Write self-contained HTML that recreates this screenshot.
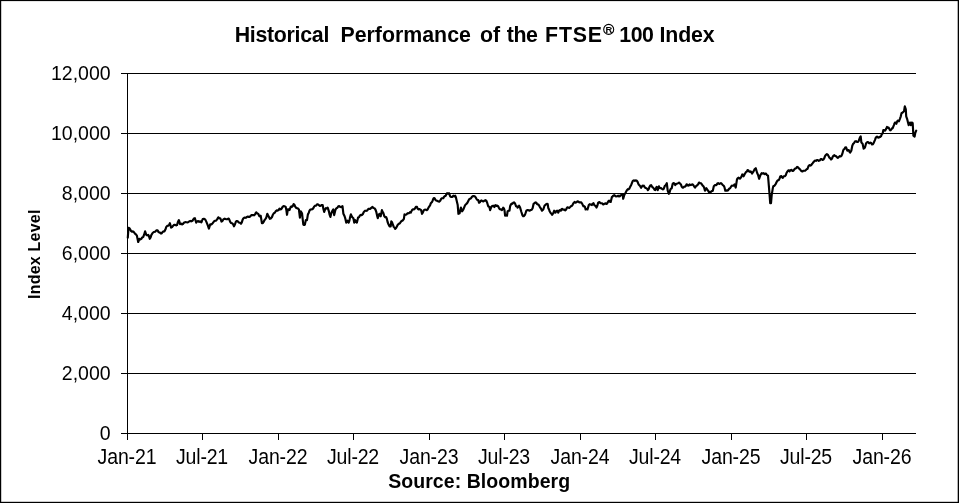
<!DOCTYPE html>
<html><head><meta charset="utf-8"><title>Historical Performance of the FTSE 100 Index</title>
<style>html,body{margin:0;padding:0;background:#fff;}body{width:959px;height:503px;overflow:hidden;}svg{display:block;}text{font-family:"Liberation Sans",sans-serif;fill:#000;}g.t{opacity:0.999;}</style></head><body>
<svg width="959" height="503" viewBox="0 0 959 503">
<rect x="0" y="0" width="959" height="503" fill="#fff"/>
<rect x="0" y="0" width="959" height="1.1" fill="#000"/>
<rect x="0" y="0" width="1.2" height="503" fill="#000"/>
<rect x="957.7" y="0" width="1.3" height="503" fill="#000"/>
<rect x="0" y="501.8" width="959" height="1.2" fill="#000"/>
<g stroke="#000" stroke-width="1" shape-rendering="crispEdges">
<line x1="121" y1="73.5" x2="916" y2="73.5"/>
<line x1="121" y1="133.5" x2="916" y2="133.5"/>
<line x1="121" y1="193.5" x2="916" y2="193.5"/>
<line x1="121" y1="253.5" x2="916" y2="253.5"/>
<line x1="121" y1="313.5" x2="916" y2="313.5"/>
<line x1="121" y1="373.5" x2="916" y2="373.5"/>
<line x1="121" y1="433.5" x2="916" y2="433.5"/>
<line x1="127.5" y1="73" x2="127.5" y2="440"/>
<line x1="202.5" y1="433" x2="202.5" y2="440"/>
<line x1="278.5" y1="433" x2="278.5" y2="440"/>
<line x1="353.5" y1="433" x2="353.5" y2="440"/>
<line x1="429.5" y1="433" x2="429.5" y2="440"/>
<line x1="504.5" y1="433" x2="504.5" y2="440"/>
<line x1="580.5" y1="433" x2="580.5" y2="440"/>
<line x1="655.5" y1="433" x2="655.5" y2="440"/>
<line x1="731.5" y1="433" x2="731.5" y2="440"/>
<line x1="806.5" y1="433" x2="806.5" y2="440"/>
<line x1="882.5" y1="433" x2="882.5" y2="440"/>
</g>
<polyline fill="none" stroke="#000" stroke-width="2.15" stroke-linejoin="round" stroke-linecap="round" points="127.8,237.6 128.5,227.8 129.2,228.0 130.0,229.1 130.9,230.8 131.9,231.6 132.9,231.4 133.8,232.0 134.8,233.5 135.7,234.1 136.9,235.7 138.2,242.0 139.4,238.8 140.4,239.4 141.3,238.8 142.2,237.4 143.2,237.0 144.1,234.7 145.1,231.3 146.3,234.8 147.2,235.4 148.2,234.8 149.0,236.3 149.8,238.8 150.6,237.4 151.3,235.1 152.6,233.0 153.8,232.0 155.1,231.7 156.3,230.4 157.6,230.4 158.6,232.1 159.5,232.6 160.2,232.6 161.0,233.6 161.8,233.2 162.6,232.0 163.6,231.3 164.5,231.3 165.4,229.6 166.3,226.9 167.2,225.9 168.2,225.7 169.1,225.0 169.9,223.2 171.1,227.6 172.1,227.1 173.2,225.7 174.1,224.8 175.1,224.8 176.1,225.4 177.0,225.1 177.9,222.1 178.9,220.1 180.1,224.1 181.1,223.7 182.0,224.4 182.9,224.0 183.9,222.8 185.2,222.1 186.4,222.3 187.7,222.5 188.9,221.6 190.2,220.9 191.4,221.3 192.4,220.8 193.3,219.4 194.1,218.3 194.9,218.2 196.2,222.6 197.2,221.3 198.3,221.1 199.2,221.8 200.2,221.3 201.4,222.3 202.7,219.1 203.9,218.8 205.2,219.4 206.4,221.9 207.7,225.1 208.9,228.6 210.2,224.4 211.4,224.4 212.7,223.2 213.9,221.5 215.2,220.7 216.1,220.6 217.1,219.4 218.3,217.3 219.2,218.1 220.2,218.2 220.8,219.5 221.5,221.6 222.4,221.1 223.3,219.4 224.6,218.7 225.8,219.1 227.2,219.2 228.7,218.5 229.4,219.8 230.2,221.9 231.1,223.0 232.1,223.2 233.1,224.3 234.0,226.3 234.9,224.5 235.9,221.6 236.8,221.0 237.7,221.3 238.8,222.5 240.0,222.8 241.0,223.8 241.8,222.4 242.5,220.1 243.4,218.3 244.4,217.6 245.7,217.8 246.9,217.0 247.9,216.6 248.8,217.0 249.8,216.9 250.7,215.7 251.9,215.0 253.2,215.1 254.1,215.3 255.0,214.4 255.7,212.9 256.3,212.3 257.2,213.5 258.2,213.8 259.4,216.3 260.0,216.5 260.7,215.7 261.9,223.2 262.8,223.2 263.6,222.0 264.4,220.2 265.1,219.5 266.3,217.6 267.3,213.8 268.0,215.4 268.6,216.3 269.8,218.8 270.9,218.4 272.0,217.0 272.9,214.7 273.8,213.2 274.8,212.8 275.7,211.3 276.6,210.4 277.6,210.7 278.6,210.1 279.5,208.6 280.7,209.4 281.6,208.6 282.6,206.9 283.6,206.1 284.5,206.3 285.7,206.9 286.4,210.4 287.0,214.8 287.9,209.4 288.7,209.3 289.5,210.1 290.7,206.9 291.4,206.4 292.0,206.9 292.8,206.0 293.6,204.1 294.4,204.8 295.1,206.3 296.1,207.8 297.0,208.2 297.9,208.4 298.9,209.4 299.9,217.6 300.8,211.3 302.0,213.2 302.6,218.4 303.3,224.5 304.1,225.0 304.9,224.5 305.8,220.1 307.0,220.1 307.9,214.4 308.7,213.0 309.5,210.7 310.4,209.5 311.4,209.4 312.4,209.3 313.3,208.2 314.2,206.5 315.2,205.7 316.1,205.6 317.0,204.4 317.9,204.4 318.9,205.1 319.9,206.0 320.8,205.7 321.8,205.0 322.7,205.1 323.4,209.0 324.2,211.9 325.0,209.7 325.8,208.2 326.8,208.4 327.7,207.6 328.9,211.3 329.6,214.7 330.4,217.0 331.2,213.7 332.1,211.3 333.3,209.4 334.2,215.1 335.2,210.7 335.9,208.9 336.5,208.2 337.4,207.8 338.3,206.3 339.2,206.1 340.2,206.9 341.4,207.1 342.5,206.1 343.4,213.8 344.6,216.3 345.4,218.9 346.2,222.6 346.9,222.1 347.5,220.7 348.7,222.6 349.4,220.6 350.0,217.6 350.9,214.4 352.1,217.0 353.4,218.2 354.2,222.6 355.0,220.1 355.9,221.8 356.9,222.6 358.1,217.6 359.0,217.2 359.8,215.7 360.9,214.9 361.9,215.1 362.9,214.0 363.8,211.9 364.8,210.9 365.7,210.7 366.6,210.8 367.5,210.1 368.4,208.9 369.4,208.8 370.4,208.8 371.3,207.8 372.5,206.9 373.4,208.0 374.4,208.2 375.4,209.5 376.3,211.9 377.1,215.6 377.8,218.2 378.6,215.4 379.4,213.8 380.0,215.6 380.7,216.3 381.9,210.1 382.5,211.7 383.2,212.6 384.4,216.3 385.2,217.2 386.1,217.0 386.9,219.0 387.6,222.0 388.6,224.6 389.5,226.3 390.7,226.3 391.3,221.3 392.0,222.2 392.6,223.8 393.8,227.0 394.5,227.5 395.1,228.9 396.1,228.0 397.0,226.3 397.9,224.6 398.9,223.8 399.8,223.3 400.7,222.0 401.6,220.9 402.6,220.7 403.9,218.8 404.5,214.4 405.4,214.8 406.4,214.4 407.6,213.2 408.6,213.3 409.5,212.6 410.1,212.1 410.8,212.6 412.0,210.1 412.9,209.3 413.9,209.4 414.9,208.6 415.8,206.9 417.0,206.9 417.6,208.6 418.3,209.4 419.2,209.0 420.1,209.4 421.1,210.1 422.0,213.8 422.9,212.4 423.9,210.1 424.9,209.6 425.8,209.8 426.8,210.1 427.7,209.4 428.6,207.4 429.5,206.3 430.1,205.3 430.8,203.2 432.0,201.9 432.6,200.7 433.3,198.8 434.0,198.0 434.6,198.2 435.5,200.0 436.4,200.7 437.4,200.7 438.3,201.5 439.2,201.6 440.2,200.7 441.1,198.9 442.1,198.2 443.3,198.2 444.0,196.8 444.6,196.3 445.8,195.7 446.5,193.9 447.1,193.2 448.1,193.7 449.0,193.2 450.2,196.3 451.1,197.0 452.1,196.9 453.3,195.7 454.2,196.3 455.2,195.7 455.9,197.3 456.5,200.0 457.7,205.1 458.4,213.8 459.6,213.2 460.9,207.6 462.1,211.3 463.4,209.4 464.6,206.3 465.6,204.5 466.5,203.8 467.4,202.7 468.4,200.7 469.2,199.2 470.0,198.8 470.9,198.3 471.9,196.9 472.9,196.1 473.8,196.1 475.0,196.6 475.6,197.2 476.3,198.6 477.2,199.8 478.2,200.1 479.0,202.8 479.9,202.1 480.7,200.7 481.6,200.4 482.5,201.3 483.4,201.4 484.4,200.7 485.4,200.2 486.3,200.7 487.3,203.2 488.2,206.3 489.4,207.0 490.1,210.1 491.3,207.0 492.2,206.0 493.2,205.7 494.4,207.0 495.0,205.5 495.7,205.1 496.5,206.0 497.3,205.7 498.1,206.2 498.8,207.6 499.6,209.0 500.3,209.5 501.1,209.3 502.0,210.1 503.2,207.6 503.9,208.5 504.5,210.1 505.1,215.7 506.1,215.3 507.0,215.7 507.6,211.3 508.6,210.6 509.5,210.7 510.1,206.3 510.9,204.5 511.6,203.6 512.4,203.8 513.2,202.8 514.0,202.4 514.9,203.2 516.1,206.3 516.9,206.4 517.6,207.6 518.4,207.0 519.1,205.7 520.1,207.6 521.4,212.0 522.4,215.1 523.1,216.2 523.9,216.1 525.1,214.5 526.4,210.7 527.3,210.0 528.3,210.1 529.5,210.7 530.8,210.1 531.7,209.7 532.6,208.2 533.6,203.8 534.9,202.8 535.6,202.4 536.4,202.8 537.0,204.1 537.7,204.4 538.5,204.5 539.2,205.7 540.0,207.4 540.8,208.2 542.0,210.7 543.3,209.5 544.5,205.7 545.8,204.4 546.8,203.8 547.7,204.1 548.3,208.2 549.0,209.3 549.6,211.3 550.8,213.2 551.5,213.6 552.1,214.8 553.3,213.2 554.2,210.7 555.4,212.6 556.2,211.2 557.1,210.7 558.3,212.6 559.0,210.8 559.6,210.1 560.8,210.7 561.5,209.2 562.1,208.8 563.0,209.6 564.0,209.5 565.2,210.3 566.0,209.7 566.7,208.2 567.5,207.3 568.3,207.6 569.2,207.9 570.2,207.0 571.2,206.0 572.1,205.7 573.4,203.2 574.6,201.9 575.5,202.6 576.5,202.3 577.5,201.4 578.4,201.6 579.3,202.3 580.2,202.3 581.2,202.4 582.1,203.6 583.4,206.3 584.2,206.1 585.0,207.0 585.6,209.5 586.5,209.1 587.5,209.5 588.8,205.1 589.7,204.2 590.6,204.5 591.9,205.1 592.7,203.6 593.5,203.2 594.2,204.9 595.0,205.7 595.8,206.2 596.5,207.6 597.4,205.5 598.2,202.6 599.4,202.0 600.3,203.1 601.3,203.2 602.2,203.4 603.2,204.5 604.4,203.8 605.2,203.3 606.1,203.8 606.9,203.8 607.6,202.6 608.4,201.2 609.1,200.7 609.9,201.8 610.7,202.0 611.9,197.0 612.5,196.7 613.2,195.7 614.2,195.2 615.1,195.7 616.0,196.5 617.0,196.3 618.2,195.7 619.0,196.5 619.8,196.3 620.5,195.2 621.3,195.1 622.0,195.3 622.6,194.4 623.2,198.8 624.5,194.4 625.7,192.6 627.0,190.1 627.8,189.2 628.6,189.4 629.4,188.5 630.1,186.9 631.4,184.4 632.6,181.3 633.4,180.5 634.1,180.4 634.9,180.9 635.7,180.4 636.5,180.5 637.4,181.5 638.6,184.4 639.9,185.7 641.1,187.8 642.4,185.7 643.1,186.2 643.9,185.7 645.1,187.8 646.4,188.2 647.1,188.8 647.9,190.1 648.7,189.0 649.5,186.9 650.3,185.5 651.1,185.1 652.4,187.3 653.1,187.6 653.9,188.6 654.5,189.8 655.2,190.1 656.0,188.1 656.7,186.9 657.7,190.1 658.9,186.3 659.5,187.6 660.2,188.2 661.1,188.1 662.0,188.8 662.9,189.4 663.7,188.8 664.9,185.7 665.5,185.5 666.2,184.4 666.8,183.2 667.7,190.7 668.9,193.8 669.5,192.5 670.2,190.1 671.0,188.6 671.7,188.2 672.7,183.8 673.5,183.1 674.2,183.2 675.2,185.1 676.5,183.8 677.7,183.5 679.0,182.5 680.2,183.8 681.0,184.6 681.7,186.6 682.5,187.6 683.3,187.6 684.1,186.6 685.0,186.6 685.8,186.0 686.5,184.4 687.2,184.6 688.0,185.7 688.8,185.5 689.6,184.4 690.9,185.1 692.1,184.4 692.9,184.6 693.7,185.7 694.5,187.0 695.2,187.6 696.0,186.1 696.7,185.7 698.0,184.4 699.0,182.5 700.0,183.2 701.0,183.3 701.9,184.4 702.7,185.7 703.5,186.3 704.2,187.9 705.0,190.7 706.3,188.2 707.5,189.8 708.8,192.0 709.5,191.9 710.3,192.6 711.5,191.3 712.8,190.7 713.8,186.3 715.0,185.1 716.0,185.2 716.9,184.4 717.5,183.3 718.2,183.2 719.2,184.0 720.1,183.6 720.9,183.1 721.6,183.6 722.8,185.1 723.6,185.6 724.4,187.0 725.3,190.7 726.1,190.3 726.9,190.7 727.8,190.5 728.6,189.5 729.4,188.5 730.1,188.2 731.3,186.3 732.0,185.6 732.8,185.7 733.6,185.6 734.5,184.4 735.7,187.6 737.0,179.4 737.8,178.1 738.6,177.6 739.4,178.5 740.1,178.6 741.3,176.9 742.3,174.4 743.0,174.8 743.6,176.3 744.9,173.8 746.1,171.9 746.9,171.5 747.6,170.0 748.4,170.4 749.1,171.5 749.9,171.9 750.7,171.3 752.0,173.5 753.2,171.9 754.5,169.4 755.8,168.2 757.0,172.5 758.3,175.7 759.1,178.8 760.4,175.1 761.6,173.2 762.5,173.6 763.3,173.2 764.5,174.1 765.8,173.5 767.0,175.1 768.0,175.7 768.9,186.3 769.8,197.6 770.2,203.2 771.0,203.2 771.7,195.1 772.7,188.8 773.3,186.3 774.5,185.7 775.8,183.8 777.0,181.3 777.9,180.3 778.7,180.1 779.5,178.8 780.2,176.6 781.4,176.1 782.0,177.4 782.7,177.8 783.5,176.6 784.2,176.3 785.0,176.2 785.8,175.1 786.5,173.0 787.1,171.9 788.3,170.3 789.0,170.4 789.6,171.3 790.8,170.0 791.6,169.9 792.5,171.0 793.2,171.0 794.0,169.8 795.2,168.5 796.2,168.2 797.1,166.9 798.3,167.5 799.0,168.6 799.6,168.8 800.8,170.3 801.6,171.3 802.5,171.5 803.2,170.7 804.0,170.7 805.0,170.8 805.9,170.0 806.7,169.1 807.5,169.0 808.4,166.3 809.6,165.0 810.4,165.6 811.2,165.3 812.0,163.9 812.7,163.2 814.0,161.5 815.0,160.6 816.0,160.8 816.9,160.1 817.8,160.0 818.8,160.8 819.8,160.5 820.7,159.1 821.6,159.0 822.5,159.9 823.5,159.5 824.4,157.9 825.0,156.1 825.7,155.1 826.9,154.1 827.7,154.6 828.5,156.1 829.3,157.6 830.1,158.2 831.1,159.5 831.9,158.8 832.6,157.0 833.5,155.6 834.4,155.1 835.2,156.1 836.1,156.1 837.3,157.6 838.0,157.9 838.8,157.0 839.8,156.2 840.7,156.4 841.5,155.7 842.3,153.9 843.0,151.2 843.6,149.5 844.4,149.1 845.1,147.6 846.1,147.3 847.3,150.7 848.0,150.0 848.8,150.1 849.5,151.8 850.1,152.6 851.3,150.7 852.3,145.7 853.1,143.9 853.9,143.2 855.1,141.3 856.0,141.2 857.0,142.0 857.8,142.0 858.6,141.1 859.9,137.6 860.7,136.3 861.4,142.6 862.6,143.8 863.6,148.6 864.4,148.3 865.1,147.0 866.1,143.2 867.4,142.0 868.1,142.1 868.9,143.2 869.6,143.3 870.4,142.6 871.2,143.0 872.0,144.5 872.8,144.3 873.6,143.2 874.9,140.1 875.8,137.6 877.0,136.6 877.9,137.5 878.7,137.6 879.5,136.9 880.2,137.0 881.0,136.3 881.7,134.4 882.7,133.2 883.3,130.1 884.1,130.0 884.9,130.7 885.5,130.1 886.2,128.8 887.0,126.9 887.9,127.8 888.7,127.6 889.9,130.1 890.6,130.3 891.4,129.4 892.0,128.4 892.7,128.2 893.9,125.1 894.5,123.4 895.2,122.5 896.4,123.8 897.0,121.8 897.7,120.7 898.9,121.3 899.9,118.8 900.8,116.3 901.5,113.2 902.7,112.5 904.0,111.3 904.8,106.3 905.8,109.4 906.2,116.3 907.1,118.8 908.0,122.5 908.7,125.1 910.0,122.5 910.8,125.1 911.7,122.5 912.7,123.2 913.4,135.7 914.6,136.6 915.2,133.2 916.2,130.7"/>
<g class="t">
<text transform="translate(234.7 42.1) scale(1 1.07)" font-size="21.33" font-weight="bold" letter-spacing="-0.28">Historical</text>
<text transform="translate(340.5 42.1) scale(1 1.07)" font-size="21.33" font-weight="bold" letter-spacing="0">Performance</text>
<text transform="translate(480.0 42.1) scale(1 1.07)" font-size="21.33" font-weight="bold" letter-spacing="0">of</text>
<text transform="translate(506.8 42.1) scale(1 1.07)" font-size="21.33" font-weight="bold" letter-spacing="-0.4">the</text>
<text transform="translate(545.1 42.1) scale(1 1.07)" font-size="21.33" font-weight="bold" letter-spacing="0.8">FTSE</text>
<text transform="translate(619.2 42.1) scale(1 1.07)" font-size="21.33" font-weight="bold" letter-spacing="-0.4">100</text>
<text transform="translate(659.5 42.1) scale(1 1.07)" font-size="21.33" font-weight="bold" letter-spacing="-0.15">Index</text>
<circle cx="608.7" cy="29.4" r="5.0" fill="none" stroke="#000" stroke-width="1.1"/>
<text x="608.9" y="32.8" font-size="9.4" text-anchor="middle" font-weight="bold">R</text>
<text transform="translate(110.6 80) scale(1 1.06)" font-size="19.5" text-anchor="end">12,000</text>
<text transform="translate(110.6 140) scale(1 1.06)" font-size="19.5" text-anchor="end">10,000</text>
<text transform="translate(110.6 200) scale(1 1.06)" font-size="19.5" text-anchor="end">8,000</text>
<text transform="translate(110.6 260) scale(1 1.06)" font-size="19.5" text-anchor="end">6,000</text>
<text transform="translate(110.6 320) scale(1 1.06)" font-size="19.5" text-anchor="end">4,000</text>
<text transform="translate(110.6 380) scale(1 1.06)" font-size="19.5" text-anchor="end">2,000</text>
<text transform="translate(110.6 440) scale(1 1.06)" font-size="19.5" text-anchor="end">0</text>
<text transform="translate(127.0 463.8) scale(1 1.12)" font-size="19.5" letter-spacing="-0.12" text-anchor="middle">Jan-21</text>
<text transform="translate(202.0 463.8) scale(1 1.12)" font-size="19.5" letter-spacing="-0.2" text-anchor="middle">Jul-21</text>
<text transform="translate(278.0 463.8) scale(1 1.12)" font-size="19.5" letter-spacing="-0.12" text-anchor="middle">Jan-22</text>
<text transform="translate(353.0 463.8) scale(1 1.12)" font-size="19.5" letter-spacing="-0.2" text-anchor="middle">Jul-22</text>
<text transform="translate(429.0 463.8) scale(1 1.12)" font-size="19.5" letter-spacing="-0.12" text-anchor="middle">Jan-23</text>
<text transform="translate(504.0 463.8) scale(1 1.12)" font-size="19.5" letter-spacing="-0.2" text-anchor="middle">Jul-23</text>
<text transform="translate(580.0 463.8) scale(1 1.12)" font-size="19.5" letter-spacing="-0.12" text-anchor="middle">Jan-24</text>
<text transform="translate(655.0 463.8) scale(1 1.12)" font-size="19.5" letter-spacing="-0.2" text-anchor="middle">Jul-24</text>
<text transform="translate(731.0 463.8) scale(1 1.12)" font-size="19.5" letter-spacing="-0.12" text-anchor="middle">Jan-25</text>
<text transform="translate(806.0 463.8) scale(1 1.12)" font-size="19.5" letter-spacing="-0.2" text-anchor="middle">Jul-25</text>
<text transform="translate(882.0 463.8) scale(1 1.12)" font-size="19.5" letter-spacing="-0.12" text-anchor="middle">Jan-26</text>
<text x="479.2" y="488" font-size="19.5" font-weight="bold" letter-spacing="0.06" text-anchor="middle">Source: Bloomberg</text>
<text transform="translate(40.3,254.2) rotate(-90)" letter-spacing="0.22" font-size="16" font-weight="bold" text-anchor="middle">Index Level</text>
</g>
</svg></body></html>
